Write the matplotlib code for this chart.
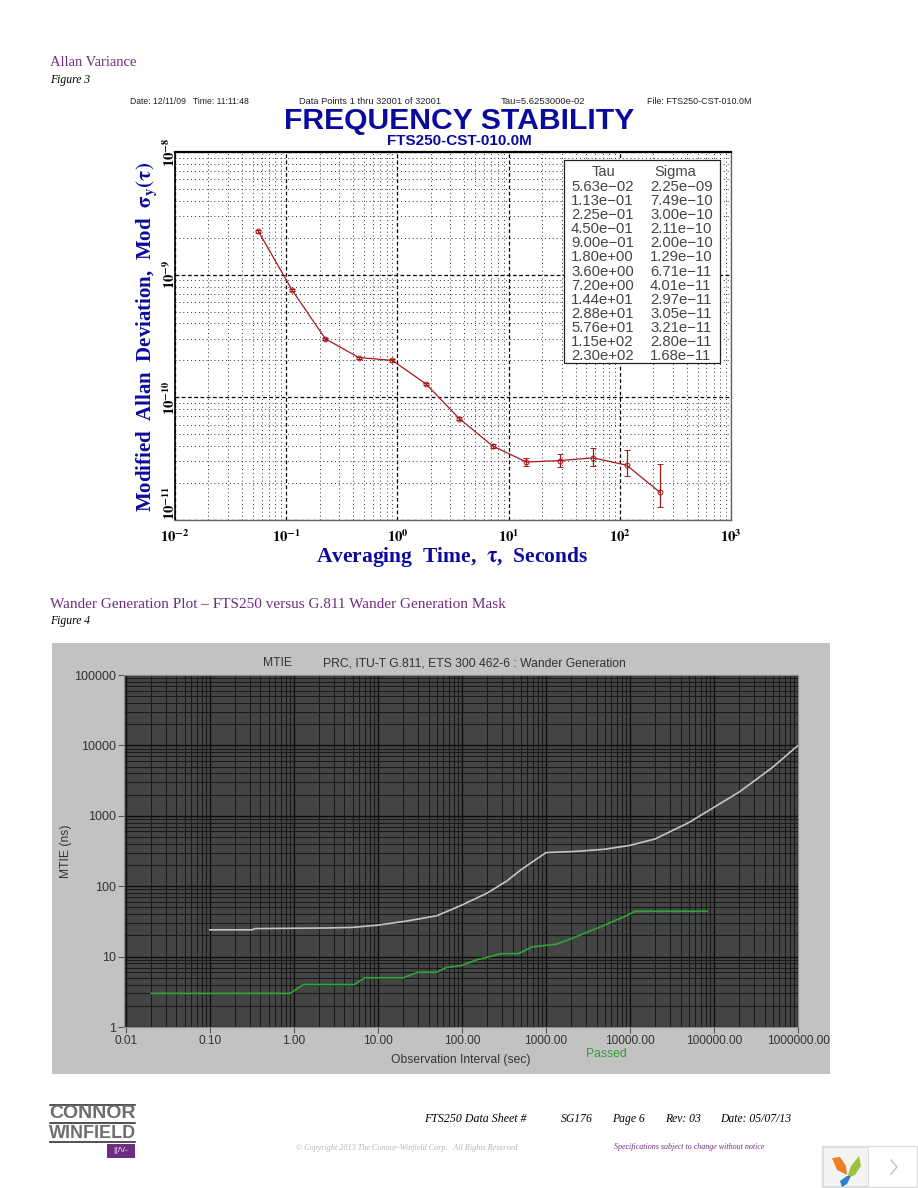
#!/usr/bin/env python3
"""Data sheet page 6: Allan deviation plot and MTIE wander generation plot."""

import matplotlib
matplotlib.use("Agg")
import matplotlib.pyplot as plt
from matplotlib.patches import Polygon, Rectangle
from matplotlib.ticker import LogLocator, NullFormatter

W, H = 918, 1188

PURPLE = "#6f2c80"
BLUE = "#0a0a9e"
RED = "#a81818"

# Figure 3
tau = [5.63e-02, 1.13e-01, 2.25e-01, 4.50e-01, 9.00e-01, 1.80e+00, 3.60e+00,
       7.20e+00, 1.44e+01, 2.88e+01, 5.76e+01, 1.15e+02, 2.30e+02]
sigma = [2.25e-09, 7.49e-10, 3.00e-10, 2.11e-10, 2.00e-10, 1.29e-10, 6.71e-11,
         4.01e-11, 2.97e-11, 3.05e-11, 3.21e-11, 2.80e-11, 1.68e-11]
sigma_low = [2.20e-09, 7.35e-10, 2.95e-10, 2.07e-10, 1.95e-10, 1.26e-10, 6.50e-11,
             3.85e-11, 2.75e-11, 2.68e-11, 2.73e-11, 2.30e-11, 1.28e-11]
sigma_high = [2.30e-09, 7.63e-10, 3.05e-10, 2.15e-10, 2.05e-10, 1.32e-10, 6.92e-11,
              4.20e-11, 3.20e-11, 3.48e-11, 3.86e-11, 3.75e-11, 2.86e-11]
tau_text = ["5.63e−02", "1.13e−01", "2.25e−01", "4.50e−01", "9.00e−01", "1.80e+00", "3.60e+00",
            "7.20e+00", "1.44e+01", "2.88e+01", "5.76e+01", "1.15e+02", "2.30e+02"]
sigma_text = ["2.25e−09", "7.49e−10", "3.00e−10", "2.11e−10", "2.00e−10", "1.29e−10", "6.71e−11",
              "4.01e−11", "2.97e−11", "3.05e−11", "3.21e−11", "2.80e−11", "1.68e−11"]
allan_xticks = [1e-2, 1e-1, 1e0, 1e1, 1e2, 1e3]
allan_xlabels = [r"$\mathbf{10^{-2}}$", r"$\mathbf{10^{-1}}$", r"$\mathbf{10^{0}}$",
                 r"$\mathbf{10^{1}}$", r"$\mathbf{10^{2}}$", r"$\mathbf{10^{3}}$"]
allan_yticks = [1e-11, 1e-10, 1e-9, 1e-8]
allan_ylabels = [r"$\mathbf{10^{-11}}$", r"$\mathbf{10^{-10}}$", r"$\mathbf{10^{-9}}$", r"$\mathbf{10^{-8}}$"]

# Figure 4
mask_x = [0.1, 0.32, 0.34, 2.5, 5, 10, 22, 50, 100, 200, 340, 500, 1000, 2000, 3000, 5000,
          10000, 20000, 50000, 100000, 200000, 500000, 1000000]
mask_y = [24, 24, 25, 25.5, 26, 28, 32, 38, 54, 80, 118, 170, 300, 310, 320, 335,
          380, 470, 800, 1320, 2180, 4900, 10000]
fts_x = [0.02, 0.9, 1.3, 5.2, 7, 20, 30, 50, 65, 100, 150, 295, 470, 680, 1320,
         2000, 5000, 9000, 11500, 83000]
fts_y = [3, 3, 4, 4, 5, 5, 6, 6, 7, 7.5, 9, 11, 11, 13.7, 15,
         18, 28, 38, 44, 44]
mtie_xticks = [1e-2, 1e-1, 1e0, 1e1, 1e2, 1e3, 1e4, 1e5, 1e6]
mtie_xlabels = ["0.01", "0.10", "1.00", "10.00", "100.00", "1000.00", "10000.00",
                "100000.00", "1000000.00"]
mtie_yticks = [1, 10, 100, 1000, 10000, 100000]
mtie_ylabels = ["1", "10", "100", "1000", "10000", "100000"]

plt.rcParams["font.family"] = ["Liberation Sans", "DejaVu Sans"]
plt.rcParams["mathtext.fontset"] = "stix"

fig = plt.figure(figsize=(W / 100, H / 100), dpi=100, facecolor="white")


def px_axes(left, top, right, bottom, **kw):
    return fig.add_axes([left / W, 1 - bottom / H, (right - left) / W, (bottom - top) / H], **kw)


# page layer in pixel coordinates, for the text around the charts
page = px_axes(0, 0, W, H)
page.set_xlim(0, W)
page.set_ylim(H, 0)
page.axis("off")


def ptext(x, y, s, size, **kw):
    kw.setdefault("va", "center")
    page.text(x, y, s, fontsize=size, **kw)


SERIF = ["Liberation Serif", "DejaVu Serif"]

ptext(50, 63, "Allan Variance", 10.5, family=SERIF, color=PURPLE)
ptext(50, 80, "Figure 3", 8.4, family=SERIF, style="italic")
ptext(50, 604, "Wander Generation Plot – FTS250 versus G.811 Wander Generation Mask", 11,
      family=SERIF, color=PURPLE)
ptext(50, 621, "Figure 4", 8.4, family=SERIF, style="italic")

# Figure 3 header
ptext(130, 102, "Date: 12/11/09   Time: 11:11:48", 6.2, color="#222222")
ptext(299, 102, "Data Points 1 thru 32001 of 32001", 6.7, color="#222222")
ptext(501, 102, "Tau=5.6253000e-02", 6.8, color="#222222")
ptext(647, 102, "File: FTS250-CST-010.0M", 6.4, color="#222222")
ptext(459, 121, "FREQUENCY STABILITY", 21.7, ha="center", weight="bold", color=BLUE)
ptext(459, 141, "FTS250-CST-010.0M", 11, ha="center", weight="bold", color=BLUE)

# Figure 3 chart
ax = px_axes(175, 152, 731, 520)
ax.set_xscale("log")
ax.set_yscale("log")
ax.set_xlim(1e-2, 1e3)
ax.set_ylim(1e-11, 1e-8)
ax.xaxis.set_minor_locator(LogLocator(base=10, subs=range(2, 10), numticks=12))
ax.yaxis.set_minor_locator(LogLocator(base=10, subs=range(2, 10), numticks=12))
ax.xaxis.set_minor_formatter(NullFormatter())
ax.yaxis.set_minor_formatter(NullFormatter())
ax.grid(True, which="major", color="black", lw=0.9, ls=(0, (3, 2)))
ax.grid(True, which="minor", color="#333333", lw=0.7, ls=(0, (1, 3)))
ax.set_axisbelow(True)
ax.set_xticks(allan_xticks, allan_xlabels, fontsize=10.5)
ax.set_yticks(allan_yticks, allan_ylabels, fontsize=10.5, rotation=90, va="center")
ax.tick_params(which="both", length=0)
ax.tick_params(axis="x", pad=6)
ax.tick_params(axis="y", pad=-2)
# the lowest label sits above its tick, clear of the x labels
ax.get_yticklabels()[0].set_verticalalignment("bottom")
for name, spine in ax.spines.items():
    spine.set_color("#666666")
    spine.set_linewidth(1.0)
ax.spines["top"].set_color("black")
ax.spines["top"].set_linewidth(1.6)
ax.spines["left"].set_color("black")
ax.spines["left"].set_linewidth(1.2)

yerr = [[s - lo for s, lo in zip(sigma, sigma_low)], [hi - s for s, hi in zip(sigma, sigma_high)]]
ax.errorbar(tau, sigma, yerr=yerr, color=RED, lw=0.9, elinewidth=0.9, capsize=2, capthick=0.8,
            marker="o", ms=3.5, mfc="none", mew=0.7)

# Sigma table
ax.add_patch(Rectangle((564 / W, 1 - 363 / H), 156 / W, 203 / H, transform=fig.transFigure,
                       fc="white", ec="#222222", lw=0.9, zorder=5))
ax.text(603 / W, 1 - 172 / H, "Tau", transform=fig.transFigure, fontsize=10.5, ha="center", va="center",
        color="#444444", zorder=6)
ax.text(675 / W, 1 - 172 / H, "Sigma", transform=fig.transFigure, fontsize=10.5, ha="center", va="center",
        color="#444444", zorder=6)
for i, (t, s) in enumerate(zip(tau_text, sigma_text)):
    row_y = 1 - (187 + i * 14.1) / H
    ax.text(571 / W, row_y, t, transform=fig.transFigure, fontsize=10.7, va="center", color="#444444", zorder=6)
    ax.text(650 / W, row_y, s, transform=fig.transFigure, fontsize=10.7, va="center", color="#444444", zorder=6)

ptext(452, 557, r"Averaging  Time,  $\mathbf{\tau}$,  Seconds", 15.5, ha="center", family=SERIF,
      weight="bold", color=BLUE)
ptext(147, 337, r"Modified  Allan  Deviation,  Mod  $\mathbf{\sigma_y(\tau)}$", 15, ha="center", rotation=90,
      family=SERIF, weight="bold", color=BLUE)

# Figure 4 grey panel
page.add_patch(Rectangle((52, 643), 778, 431, fc="#c2c2c2", ec="none"))
ptext(277, 663, "MTIE", 8.7, ha="center", color="#333333")
ptext(323, 663, "PRC, ITU-T G.811, ETS 300 462-6 : Wander Generation", 8.7, color="#333333")
ptext(461, 1060, "Observation Interval (sec)", 8.7, ha="center", color="#333333")
ptext(606, 1054, "Passed", 8.7, ha="center", color="#2e9e35")
ptext(66, 851, "MTIE (ns)", 8.7, ha="center", rotation=90, color="#333333")

# Figure 4 chart
bx = px_axes(124, 675, 798, 1027, facecolor="#434544")
bx.set_xscale("log")
bx.set_yscale("log")
bx.set_xlim(0.0095, 1e6)
bx.set_ylim(1, 1e5)
bx.xaxis.set_minor_locator(LogLocator(base=10, subs=range(2, 10), numticks=12))
bx.yaxis.set_minor_locator(LogLocator(base=10, subs=range(2, 10), numticks=12))
bx.xaxis.set_minor_formatter(NullFormatter())
bx.yaxis.set_minor_formatter(NullFormatter())
bx.grid(True, which="major", color="#0c0c0c", lw=1.0)
bx.grid(True, which="minor", color="#1a1a1a", lw=0.75)
bx.set_axisbelow(True)
bx.set_xticks(mtie_xticks, mtie_xlabels, fontsize=8.6, color="#333333")
bx.set_yticks(mtie_yticks, mtie_ylabels, fontsize=9, color="#333333")
bx.tick_params(which="minor", length=0)
bx.tick_params(which="major", length=4, width=0.8, color="#555555", pad=2)
for spine in bx.spines.values():
    spine.set_color("#8a8a8a")
    spine.set_linewidth(0.8)

bx.plot(mask_x, mask_y, color="#c4c4c4", lw=1.2)
bx.plot(fts_x, fts_y, color="#2fa535", lw=1.2)

# Footer
ptext(424, 1119, "FTS250 Data Sheet #", 8.6, family=SERIF, style="italic")
ptext(561, 1119, "SG176", 8.4, family=SERIF, style="italic")
ptext(612, 1119, "Page 6", 8.4, family=SERIF, style="italic")
ptext(665, 1119, "Rev: 03", 8.4, family=SERIF, style="italic")
ptext(720, 1119, "Date: 05/07/13", 8.4, family=SERIF, style="italic")
ptext(296, 1148, "© Copyright 2013 The Connor-Winfield Corp.   All Rights Reserved", 5.85, family=SERIF,
      style="italic", color="#b5b5b5")
ptext(614, 1147, "Specifications subject to change without notice", 5.8, family=SERIF,
      style="italic", color=PURPLE)

# Logo
for y in (1105, 1123, 1142):
    page.plot([50, 135], [y, y], color="#222222", lw=1.1)
ptext(92.5, 1114, "CONNOR", 14, ha="center", weight="bold", color="#6d6e70")
ptext(92.5, 1133, "WINFIELD", 13, ha="center", weight="bold", color="#6d6e70")
page.add_patch(Rectangle((107, 1144), 28, 14, fc=PURPLE, ec="none"))
ptext(121, 1151, "|(/\\/-", 6, ha="center", color="white")

# Corner widget
page.add_patch(Rectangle((822, 1146), 95, 41, fc="white", ec="#dddddd", lw=1))
page.add_patch(Rectangle((823, 1147), 45, 39, fc="#f4f4f4", ec="#dddddd", lw=0.8))
page.add_patch(Polygon([(832, 1158), (840, 1157), (846, 1166), (847, 1175), (837, 1170)], fc="#ee7f22", ec="none"))
page.add_patch(Polygon([(859, 1156), (861, 1166), (855, 1175), (847, 1178), (851, 1166)], fc="#9cc23b", ec="none"))
page.add_patch(Polygon([(847, 1176), (851, 1176), (847, 1184), (842, 1187), (840, 1181)], fc="#2f7fc8", ec="none"))
page.plot([891, 897, 891], [1160, 1167, 1174], color="#bbbbbb", lw=0.9)

fig.savefig("out.png", dpi=100)
